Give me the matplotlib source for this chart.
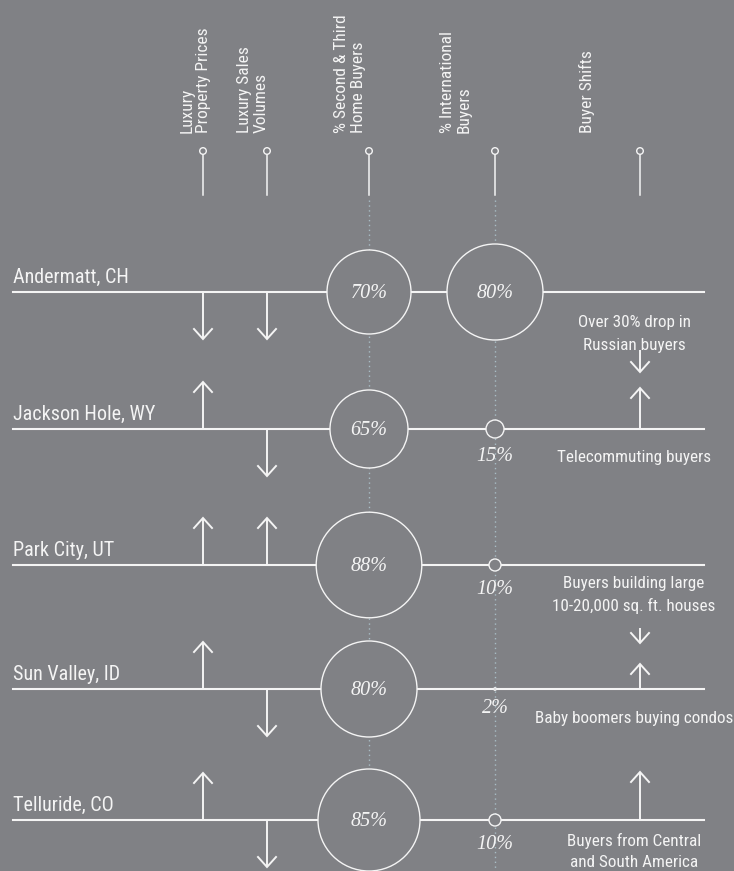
import matplotlib.pyplot as plt
from matplotlib.patches import Circle

BG = '#808185'
FG = '#f4f4f4'
DOT = '#a9bdc5'
SANS = ['Liberation Sans Narrow', 'Roboto Condensed', 'DejaVu Sans Condensed', 'Roboto', 'DejaVu Sans']
SERIF = ['Liberation Serif', 'DejaVu Serif']

headers = ['Luxury\nProperty Prices', 'Luxury Sales\nVolumes', '% Second & Third\nHome Buyers',
           '% International\nBuyers', 'Buyer Shifts']
cities = ['Andermatt, CH', 'Jackson Hole, WY', 'Park City, UT', 'Sun Valley, ID', 'Telluride, CO']
price_trend = ['down', 'up', 'up', 'up', 'up']
volume_trend = ['down', 'down', 'up', 'down', 'down']
second_home_pct = [70, 65, 88, 80, 85]
international_pct = [80, 15, 10, 2, 10]
shift_trend = ['down', 'up', 'down', 'up', 'up']
shift_notes = ['Over 30% drop in\nRussian buyers', 'Telecommuting buyers',
               'Buyers building large\n10-20,000 sq. ft. houses', 'Baby boomers buying condos',
               'Buyers from Central\nand South America']

# layout, in pixels (y grows downwards)
W, H = 734, 871
col_x = [203, 267, 369, 495, 640]
header_right = [211, 269, 366, 472, 595]
row_y = [292, 429, 565, 689, 820]
note_x = 634
note_dy = [30, 28, 18, 29, 21]          # first line of the note, below the row line
note_gap = [23, 23, 23, 23, 21]          # distance between note lines
shift_arrow = [(58, 80), (0, 41), (63, 78), (0, 25), (0, 48)]  # start / end offset of the arrow
RADIUS_PER_PCT = 0.6

fig = plt.figure(figsize=(W / 100, H / 100), dpi=100, facecolor=BG)
ax = fig.add_axes([0, 0, 1, 1])
ax.set_xlim(0, W)
ax.set_ylim(H, 0)
ax.axis('off')
ax.set_facecolor(BG)


def arrow(x, y0, y1, lw=1.4):
    d = 1 if y1 > y0 else -1
    ax.plot([x, x], [y0, y1], color=FG, lw=lw, solid_capstyle='butt', zorder=3)
    ax.plot([x - 9, x, x + 9], [y1 - d * 10, y1, y1 - d * 10], color=FG, lw=lw,
            solid_joinstyle='miter', zorder=3)


# header
for i, h in enumerate(headers):
    ax.text(header_right[i], 133, h, rotation=90, ha='right', va='bottom', color=FG,
            fontsize=12.5, family=SANS, stretch='condensed', linespacing=1.15,
            multialignment='left')
    ax.add_patch(Circle((col_x[i], 151), 3.3, facecolor=BG, edgecolor=FG, lw=1.0, zorder=4))
    ax.plot([col_x[i], col_x[i]], [154.5, 195], color=FG, lw=1.1, zorder=3)

for x in col_x[2:4]:
    ax.plot([x, x], [200, H], color=DOT, lw=1.0, ls=(0, (1, 2.5)), zorder=1)

# rows
for i, city in enumerate(cities):
    y = row_y[i]
    ax.plot([13, 704], [y, y], color=FG, lw=1.5, zorder=2)
    ax.text(13, y - 9, city, ha='left', va='baseline', color=FG, fontsize=14.5, family=SANS,
            stretch='condensed')

    for x, trend in [(col_x[0], price_trend[i]), (col_x[1], volume_trend[i])]:
        arrow(x, y, y + 47 if trend == 'down' else y - 47)

    r = second_home_pct[i] * RADIUS_PER_PCT
    ax.add_patch(Circle((col_x[2], y), r, facecolor=BG, edgecolor=FG, lw=1.0, zorder=4))
    ax.text(col_x[2], y + 1, f'{second_home_pct[i]}%', ha='center', va='center', color=FG,
            fontsize=14.5, family=SERIF, style='italic', zorder=5)

    r = international_pct[i] * RADIUS_PER_PCT
    ax.add_patch(Circle((col_x[3], y), r, facecolor=BG, edgecolor=FG, lw=1.0, zorder=4))
    if r > 20:
        ax.text(col_x[3], y + 1, f'{international_pct[i]}%', ha='center', va='center', color=FG,
                fontsize=14.5, family=SERIF, style='italic', zorder=5)
    else:
        ax.text(col_x[3], y + r + 18, f'{international_pct[i]}%', ha='center', va='center',
                color=FG, fontsize=14.5, family=SERIF, style='italic', zorder=5)

    for k, line in enumerate(shift_notes[i].split('\n')):
        ax.text(note_x, y + note_dy[i] + k * note_gap[i], line, ha='center', va='center',
                color=FG, fontsize=12.3, family=SANS, stretch='condensed')
    a, b = shift_arrow[i]
    if shift_trend[i] == 'down':
        arrow(col_x[4], y + a, y + b)
    else:
        arrow(col_x[4], y - a, y - b)

fig.savefig('out.png', dpi=100, facecolor=BG)
